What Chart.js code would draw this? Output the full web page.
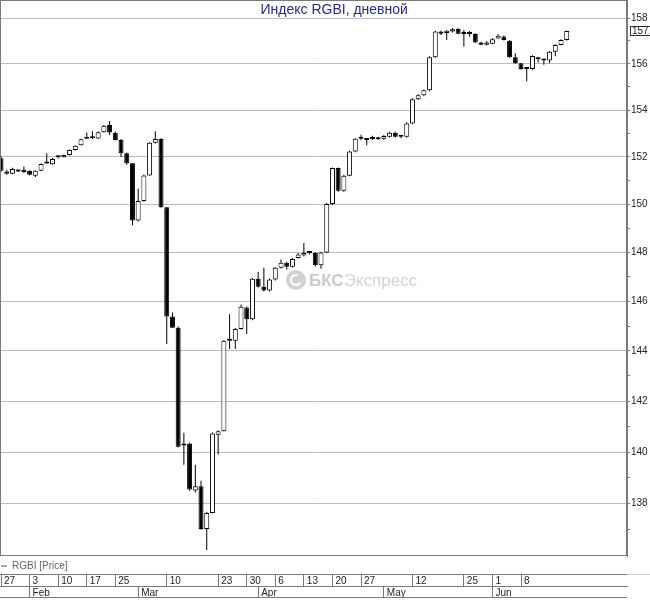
<!DOCTYPE html>
<html>
<head>
<meta charset="utf-8">
<script src="https://cdn.jsdelivr.net/npm/chart.js@4/dist/chart.umd.min.js"></script>
<style>
  html, body { margin: 0; padding: 0; background: #fff; }
  canvas { display: block; }
</style>
</head>
<body>
<canvas id="rgbi" width="650" height="600"></canvas>
<script>
// trading days (dd.mm)
const dates = [
  '27.01','28.01','29.01','30.01','31.01',
  '03.02','04.02','05.02','06.02','07.02',
  '10.02','11.02','12.02','13.02','14.02',
  '17.02','18.02','19.02','20.02','21.02',
  '25.02','26.02','27.02','28.02',
  '02.03','03.03','04.03','05.03','06.03',
  '10.03','11.03','12.03','13.03',
  '16.03','17.03','18.03','19.03','20.03',
  '23.03','24.03','25.03','26.03','27.03',
  '30.03','31.03','01.04','02.04','03.04',
  '06.04','07.04','08.04','09.04','10.04',
  '13.04','14.04','15.04','16.04','17.04',
  '20.04','21.04','22.04','23.04','24.04',
  '27.04','28.04','29.04','30.04',
  '04.05','05.05','06.05','07.05','08.05',
  '12.05','13.05','14.05','15.05',
  '18.05','19.05','20.05','21.05','22.05',
  '25.05','26.05','27.05','28.05','29.05',
  '01.06','02.06','03.06','04.06','05.06',
  '08.06','09.06','10.06','11.06',
  '15.06','16.06','17.06','18.06','19.06'
];

const opens = [
  151.95,151.39,151.29,151.46,151.46, 151.42,151.21,151.42,151.72,151.69,
  151.99,151.99,152.08,152.30,152.50, 152.78,152.84,152.79,153.05,153.36,
  153.03,152.72,152.16,151.74,149.33, 150.15,151.22,152.60,152.76,149.89,
  145.39,144.93,140.25,140.33,138.51, 138.67,137.03,137.64,140.68,140.81,
  144.41,144.41,144.88,145.75,145.28, 146.93,146.60,146.45,146.90,147.38,
  147.58,147.42,147.78,147.88,147.99, 147.99,147.48,148.01,150.02,151.53,
  150.58,151.21,152.23,152.77,152.72, 152.76,152.75,152.77,152.86,153.03,
  152.86,152.86,153.43,154.47,154.64, 154.85,156.29,157.41,157.35,157.41,
  157.52,157.31,157.31,157.30,156.93, 156.83,156.87,157.10,157.19,157.01,
  156.29,156.03,155.77,155.77,156.29, 156.20,156.14,156.53,156.82,157.04
];
const highs = [
  152.05,151.46,151.54,151.48,151.60, 151.44,151.44,151.73,152.16,151.96,
  152.06,152.10,152.32,152.50,152.78, 153.04,153.10,153.08,153.36,153.53,
  153.08,152.76,152.19,151.75,150.67, 151.25,152.63,153.10,152.80,149.90,
  145.55,144.98,140.75,140.36,139.50, 138.88,137.69,140.76,140.84,144.44,
  145.48,144.92,145.88,145.80,146.96, 147.20,147.38,146.94,147.41,147.72,
  147.63,147.78,147.99,148.40,148.04, 148.02,148.04,150.07,151.56,151.56,
  151.25,152.26,152.80,152.95,152.78, 152.90,152.86,152.93,153.07,153.07,
  152.91,153.48,154.51,154.68,154.89, 156.33,157.44,157.44,157.48,157.57,
  157.55,157.48,157.43,157.33,156.96, 157.00,157.13,157.30,157.24,157.04,
  156.46,156.04,155.81,156.37,156.30, 156.22,156.56,156.85,157.07,157.46
];
const lows = [
  151.38,151.25,151.27,151.37,151.33, 151.23,151.15,151.40,151.71,151.66,
  151.94,151.98,152.06,152.28,152.49, 152.76,152.76,152.76,153.04,152.94,
  152.70,152.00,151.67,149.12,149.29, 150.13,151.21,152.57,149.86,144.28,
  144.92,140.18,139.50,138.50,138.43, 137.00,136.23,137.62,139.90,140.80,
  144.08,144.08,144.86,144.68,145.24, 146.57,146.41,146.41,146.86,147.35,
  147.31,147.39,147.76,147.84,147.92, 147.43,147.34,147.98,149.98,150.53,
  150.53,151.19,152.20,152.72,152.50, 152.72,152.72,152.72,152.83,152.83,
  152.80,152.83,153.39,154.43,154.60, 154.81,156.26,157.26,157.04,157.37,
  157.29,156.75,157.18,156.91,156.81, 156.81,156.85,157.09,157.02,156.26,
  156.00,155.74,155.24,155.74,156.06, 155.96,156.03,156.33,156.81,157.02
];
const closes = [
  151.42,151.29,151.49,151.39,151.36, 151.25,151.42,151.70,151.76,151.92,
  152.00,152.08,152.30,152.48,152.75, 152.83,152.80,153.05,153.33,153.04,
  152.72,152.16,151.74,149.33,150.15, 151.22,152.60,152.76,149.89,145.39,
  144.93,140.21,140.33,138.54,138.67, 137.03,137.64,140.72,140.81,144.41,
  144.43,144.88,145.79,145.28,146.93, 146.60,146.45,146.90,147.38,147.58,
  147.42,147.74,147.92,147.99,148.00, 147.48,148.01,150.02,151.53,150.58,
  151.21,152.23,152.77,152.77,152.74, 152.77,152.77,152.89,153.03,152.86,
  152.87,153.43,154.47,154.64,154.85, 156.29,157.41,157.31,157.45,157.51,
  157.31,157.30,157.30,156.93,156.83, 156.93,157.07,157.22,157.04,156.29,
  156.03,155.77,155.78,156.34,156.20, 156.14,156.53,156.82,157.04,157.43
];

// labelled days in the upper row of the date scale, month starts in the lower row
const dayTicks = ['27.01','03.02','10.02','17.02','25.02','10.03','23.03','30.03',
  '06.04','13.04','20.04','27.04','12.05','25.05','01.06','08.06'];
const monthTicks = ['03.02','02.03','01.04','04.05','01.06'];
const monthNames = ['Feb','Mar','Apr','May','Jun'];
const priceTicks = [138,140,142,144,146,148,150,152,154,156,158];

const seriesName = 'RGBI [Price]';
const chartTitle = 'Индекс RGBI, дневной';
const watermark = ['БКС', 'Экспресс'];

Chart.defaults.font.family = "'Liberation Sans', Arial, sans-serif";
Chart.defaults.font.size = 10;

const LINE = '#7a7a7a';

const decor = {
  id: 'decor',
  beforeDatasetsDraw(chart) {
    const ctx = chart.ctx;
    ctx.save();
    ctx.fillStyle = '#d2d2d2';
    ctx.beginPath();
    ctx.arc(296, 280, 10, 0, Math.PI * 2);
    ctx.fill();
    ctx.strokeStyle = '#fff';
    ctx.lineWidth = 2;
    ctx.beginPath();
    ctx.arc(296, 280, 5, 0.6, Math.PI * 1.6);
    ctx.stroke();
    ctx.textBaseline = 'middle';
    ctx.textAlign = 'left';
    ctx.fillStyle = '#cacaca';
    ctx.font = "bold 17px 'Liberation Sans', Arial, sans-serif";
    ctx.fillText(watermark[0], 309, 281);
    const w = ctx.measureText(watermark[0]).width;
    ctx.fillStyle = '#d4d4d4';
    ctx.font = "17px 'Liberation Sans', Arial, sans-serif";
    ctx.fillText(watermark[1], 309 + w, 281);
    ctx.restore();
  },
  afterDraw(chart) {
    const ctx = chart.ctx;
    const a = chart.chartArea;
    const xm = chart.scales.xm;
    const xd = chart.scales.x;
    ctx.save();
    // frame round the plot
    ctx.strokeStyle = LINE;
    ctx.lineWidth = 1;
    ctx.strokeRect(a.left + 0.5, a.top + 0.5, a.width - 1, a.height - 1);
    // bottom line of the date table and the stub to the right
    ctx.beginPath();
    ctx.moveTo(xm.left, Math.round(xm.bottom) - 0.5);
    ctx.lineTo(xm.right, Math.round(xm.bottom) - 0.5);
    ctx.stroke();
    ctx.strokeStyle = '#cfcfcf';
    ctx.beginPath();
    ctx.moveTo(xd.right, Math.round(xd.top) + 0.5);
    ctx.lineTo(chart.width, Math.round(xd.top) + 0.5);
    ctx.stroke();
    // title inside the frame
    ctx.fillStyle = '#252b8c';
    ctx.font = "14px 'Liberation Sans', Arial, sans-serif";
    ctx.textAlign = 'center';
    ctx.textBaseline = 'middle';
    ctx.fillText(chartTitle, a.left + a.width * 0.533, a.top + 10);
    // last price box on the axis
    const last = closes[closes.length - 1];
    const y = Math.round(chart.scales.y.getPixelForValue(last));
    ctx.strokeStyle = '#333';
    ctx.strokeRect(a.right + 3.5, y - 4.5, 30, 9);
    ctx.fillStyle = '#222';
    ctx.font = "10px 'Liberation Sans', Arial, sans-serif";
    ctx.textAlign = 'left';
    ctx.fillText(last.toFixed(2).replace('.', ','), a.right + 5, y);
    ctx.restore();
  }
};

const bodies = opens.map((o, i) => ({ x: i, y: [o, closes[i]] }));
const wicks = lows.map((l, i) => ({ x: i, y: [l, highs[i]] }));

function dateAxis(weight, marks, label) {
  return {
    type: 'linear',
    axis: 'x',
    position: 'bottom',
    weight: weight,
    min: -0.18,
    max: 109.55,
    bounds: 'data',
    offset: false,
    afterBuildTicks: s => { s.ticks = marks.map(d => ({ value: dates.indexOf(d) })); },
    afterFit: s => { s.height = 12; s.paddingLeft = 0; s.paddingRight = 0; },
    grid: { drawOnChartArea: false, drawTicks: true, tickLength: 12, tickColor: LINE, offset: false },
    border: { display: true, color: LINE },
    ticks: {
      autoSkip: false, maxRotation: 0, minRotation: 0,
      align: 'start', labelOffset: 3, padding: -11,
      color: '#222', font: { size: 10 },
      callback: label
    }
  };
}

new Chart(document.getElementById('rgbi'), {
  type: 'bar',
  data: {
    datasets: [{
      label: seriesName,
      data: bodies,
      order: 0,
      grouped: false,
      barThickness: 5,
      minBarLength: 2,
      inflateAmount: 0,
      borderSkipped: false,
      borderWidth: 1,
      borderColor: '#000',
      backgroundColor: closes.map((c, i) => c >= opens[i] ? '#fff' : '#000')
    }, {
      label: 'wicks',
      data: wicks,
      order: 1,
      grouped: false,
      barThickness: 1,
      inflateAmount: 0,
      borderWidth: 0,
      backgroundColor: '#000'
    }]
  },
  options: {
    responsive: false,
    animation: false,
    devicePixelRatio: 1,
    events: [],
    layout: { autoPadding: false, padding: { left: 0, right: 0, top: 0, bottom: 2 } },
    plugins: {
      tooltip: { enabled: false },
      title: { display: false },
      legend: {
        position: 'bottom',
        align: 'start',
        weight: 0,
        maxHeight: 18,
        title: { display: true, text: ' ', padding: 0, font: { size: 4, lineHeight: 1 } },
        labels: {
          usePointStyle: true,
          pointStyleWidth: 6,
          padding: 1,
          color: '#333',
          font: { size: 10 },
          generateLabels: () => [{
            text: seriesName, pointStyle: 'line', strokeStyle: '#555',
            fillStyle: '#555', lineWidth: 1, hidden: false, datasetIndex: 0
          }]
        }
      }
    },
    scales: {
      x: dateAxis(1, dayTicks, v => dates[v] ? String(parseInt(dates[v], 10)) : ''),
      xm: dateAxis(2, monthTicks, v => monthNames[monthTicks.indexOf(dates[v])] || ''),
      y: {
        type: 'logarithmic',
        position: 'right',
        min: 136.0,
        max: 158.8,
        bounds: 'data',
        afterBuildTicks: s => {
          s.ticks = [];
          for (let v = priceTicks[0] - 1; v <= priceTicks[priceTicks.length - 1]; v++) s.ticks.push({ value: v });
        },
        afterFit: s => { s.width = 23; s.paddingTop = 0; s.paddingBottom = 0; },
        grid: {
          color: c => c.tick && priceTicks.includes(c.tick.value) ? '#bcbcbc' : 'rgba(0,0,0,0)',
          tickColor: LINE,
          tickLength: 3,
          drawTicks: true
        },
        border: { display: true, color: LINE },
        ticks: {
          autoSkip: false,
          padding: 1,
          color: '#222',
          font: { size: 10 },
          callback: v => priceTicks.includes(v) ? String(v) : ''
        }
      }
    }
  },
  plugins: [decor]
});
</script>
</body>
</html>
